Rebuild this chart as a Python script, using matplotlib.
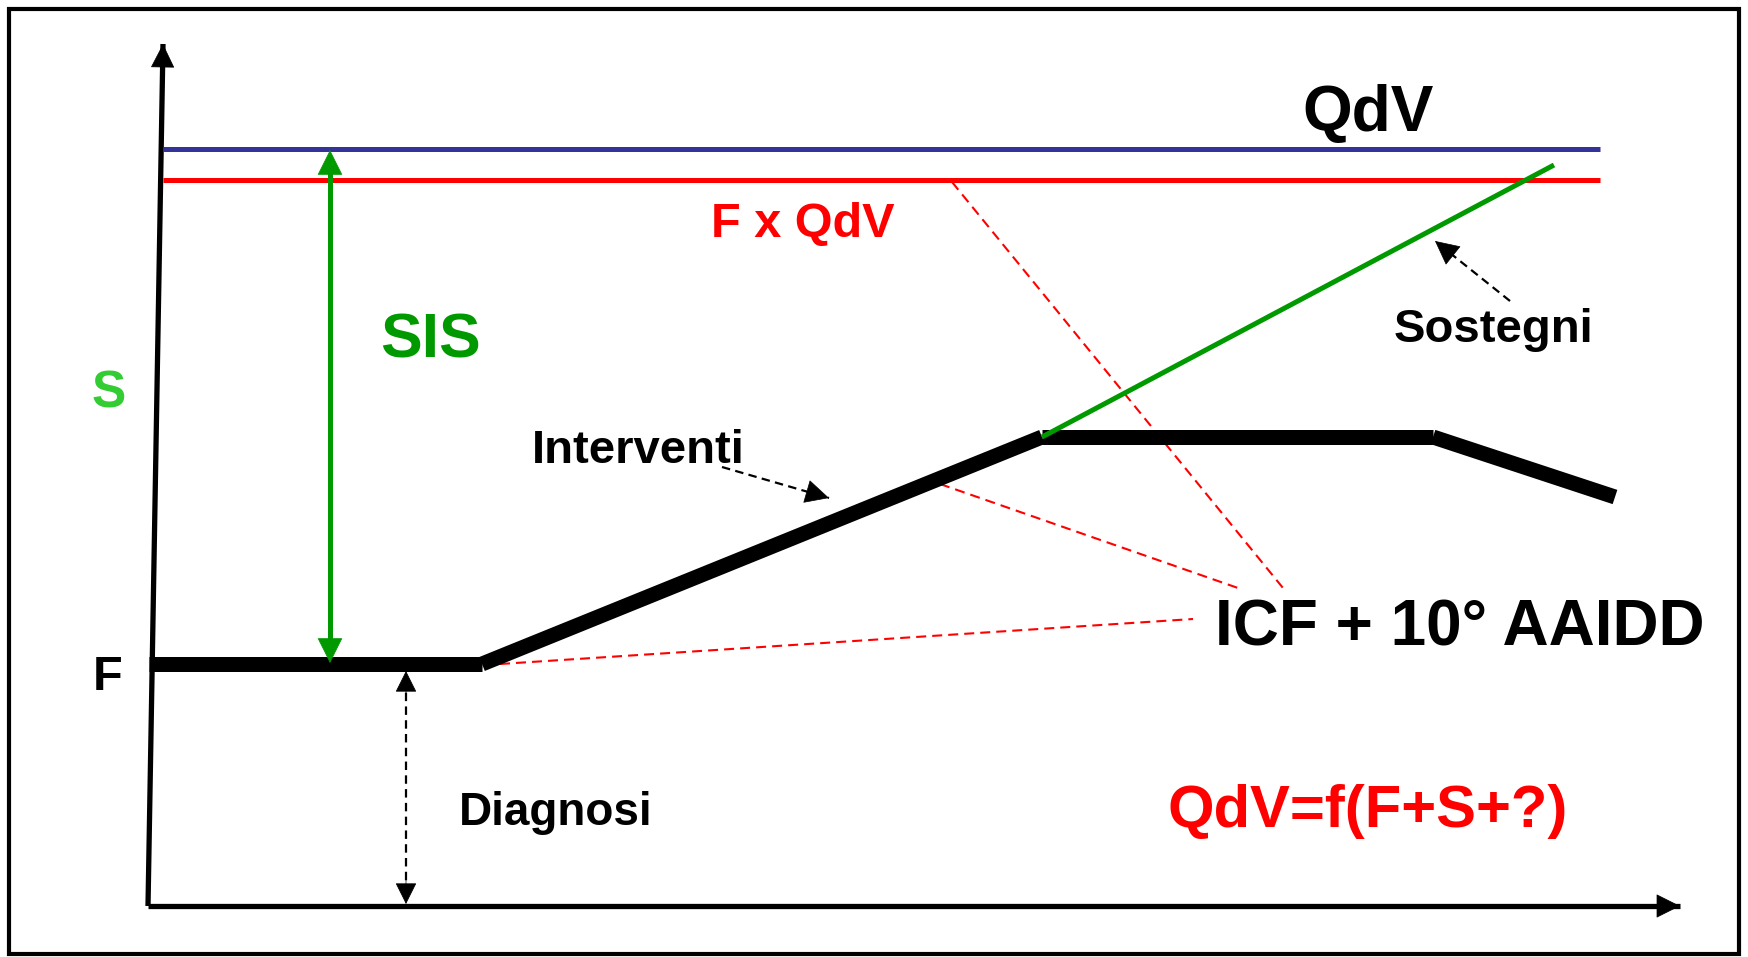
import matplotlib
matplotlib.use("Agg")
import matplotlib.pyplot as plt
from matplotlib.patches import Rectangle

plt.rcParams['font.family'] = ['Liberation Sans', 'DejaVu Sans']

# levels (origin = corner of the axes, y up)
qdv_level = 757
fqdv_level = 726
line_x = [15, 1452]

# functioning path (F)
func_x = [1, 334, 894, 1285, 1467]
func_y = [242, 242, 469, 469, 409]

# supports line
supp_x = [894, 1406]
supp_y = [469, 741]

# axes
yaxis_x = [0, 15]
yaxis_y = [0, 862]
xaxis_x = [0, 1532]
xaxis_y = [0, 0]

# SIS gap and diagnosis arrows
sis_x, sis_y = 182, [243, 756]
diag_x, diag_y = 258, [2, 235]

# label arrows (tail -> tip)
interv_arrow = [(574, 439), (681, 408)]
sost_arrow = [(1362, 605), (1287, 665)]

# red dotted links to "ICF + 10° AAIDD"
links = [
    [(804, 724), (1135, 318)],
    [(792, 422), (1090, 318)],
    [(352, 242), (1045, 287)],
]

RED = '#ff0000'
BLUE = '#333399'
GREEN = '#009900'
LGREEN = '#33cc33'


def head(ax, tail, tip, color, size=12):
    # small solid arrow head at tip
    dx = tip[0] - tail[0]
    dy = tip[1] - tail[1]
    d = (dx ** 2 + dy ** 2) ** 0.5
    back = (tip[0] - dx / d * 25, tip[1] - dy / d * 25)
    ax.annotate('', xy=tip, xytext=back,
                arrowprops=dict(arrowstyle='-|>,head_length=%g,head_width=%g' % (size, size * 0.5),
                                mutation_scale=1, color=color, lw=0.5,
                                shrinkA=0, shrinkB=0))


fig = plt.figure(figsize=(17.48, 9.57), dpi=100)
ax = fig.add_axes([0, 0, 1, 1])
ax.set_xlim(-148, 1600)
ax.set_ylim(-51, 906)
ax.axis('off')

# outer frame
ax.add_patch(Rectangle((-139, -48), 1730, 945, fill=False, lw=3, ec='black'))

# axes with arrows
ax.plot(yaxis_x, yaxis_y, color='black', lw=3.8, solid_capstyle='butt')
head(ax, (yaxis_x[0], yaxis_y[0]), (yaxis_x[1], yaxis_y[1]), 'black', 16)
ax.plot(xaxis_x, xaxis_y, color='black', lw=3.8, solid_capstyle='butt')
head(ax, (xaxis_x[0], xaxis_y[0]), (xaxis_x[1], xaxis_y[1]), 'black', 16)

# QdV and F x QdV lines
ax.plot(line_x, [qdv_level, qdv_level], color=BLUE, lw=3.6, solid_capstyle='butt')
ax.plot(line_x, [fqdv_level, fqdv_level], color=RED, lw=3.6, solid_capstyle='butt')

# red dotted links
for (a, b) in links:
    ax.plot([a[0], b[0]], [a[1], b[1]], color=RED, lw=1.5, dashes=(4.8, 2.9))

# functioning path, drawn segment by segment
for i in range(len(func_x) - 1):
    ax.plot(func_x[i:i + 2], func_y[i:i + 2], color='black', lw=10.8,
            solid_capstyle='butt')

# supports
ax.plot(supp_x, supp_y, color=GREEN, lw=3.6, solid_capstyle='butt')

# SIS double arrow
ax.plot([sis_x, sis_x], [sis_y[0] + 10, sis_y[1] - 10], color=GREEN, lw=3.6)
head(ax, (sis_x, sis_y[0] + 40), (sis_x, sis_y[0]), GREEN, 17)
head(ax, (sis_x, sis_y[1] - 40), (sis_x, sis_y[1]), GREEN, 17)

# diagnosis double arrow (dashed)
ax.plot([diag_x, diag_x], [diag_y[0] + 10, diag_y[1] - 10], color='black', lw=1.6,
        dashes=(3.8, 2.4))
head(ax, (diag_x, diag_y[1] - 30), (diag_x, diag_y[0]), 'black', 14)
head(ax, (diag_x, diag_y[0] + 30), (diag_x, diag_y[1]), 'black', 14)

# label arrows (dashed)
for tail, tip in [interv_arrow, sost_arrow]:
    ax.plot([tail[0], tip[0]], [tail[1], tip[1]], color='black', lw=1.6,
            dashes=(3.8, 2.4))
    head(ax, tail, tip, 'black', 16)

# texts
kw = dict(fontweight='bold', va='baseline')
ax.text(1220, 775, 'QdV', fontsize=46, color='black', ha='center', **kw)
ax.text(655, 669, 'F x QdV', fontsize=35, color=RED, ha='center', **kw)
ax.text(283, 549, 'SIS', fontsize=45, color=GREEN, ha='center', **kw)
ax.text(-39, 498, 'S', fontsize=37, color=LGREEN, ha='center', **kw)
ax.text(490, 443, 'Interventi', fontsize=34, color='black', ha='center', **kw)
ax.text(1346, 564, 'Sostegni', fontsize=34, color='black', ha='center', **kw)
ax.text(1067, 261, 'ICF + 10° AAIDD', fontsize=46, color='black', ha='left', **kw)
ax.text(-40, 216, 'F', fontsize=35, color='black', ha='center', **kw)
ax.text(408, 81, 'Diagnosi', fontsize=33, color='black', ha='center', **kw)
ax.text(1220, 79, 'QdV=f(F+S+?)', fontsize=43, color=RED, ha='center', **kw)

fig.savefig('out.png', dpi=100)
